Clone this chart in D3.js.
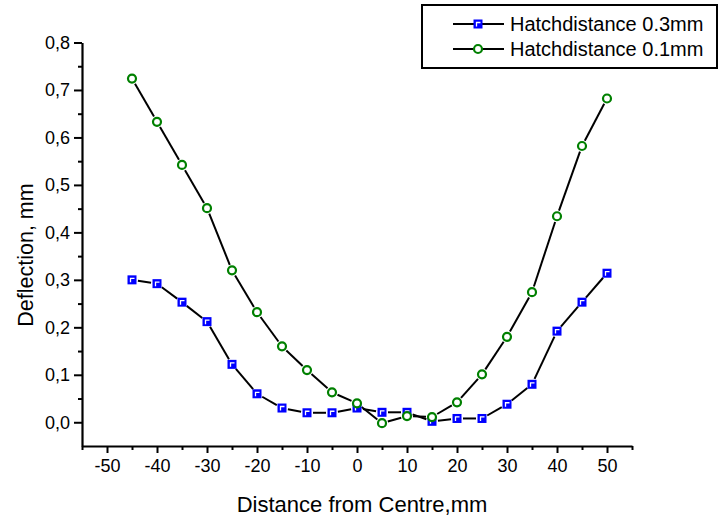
<!DOCTYPE html>
<html>
<head>
<meta charset="utf-8">
<script src="https://cdn.jsdelivr.net/npm/d3@7"></script>
<style>
  body { margin: 0; background: #fff; }
  svg text { font-family: "Liberation Sans", Arial, sans-serif; fill: #000; }
</style>
</head>
<body>
<svg id="chart" width="721" height="517"></svg>
<script>
// distance from centre, mm
const distance = [-45, -40, -35, -30, -25, -20, -15, -10, -5, 0, 5, 10, 15, 20, 25, 30, 35, 40, 45, 50];
// deflection, mm
const hatch03 = [0.300, 0.292, 0.253, 0.212, 0.122, 0.060, 0.030, 0.020, 0.020, 0.030,
                 0.021, 0.021, 0.002, 0.008, 0.008, 0.038, 0.080, 0.192, 0.253, 0.314];
const hatch01 = [0.724, 0.633, 0.542, 0.451, 0.320, 0.232, 0.160, 0.110, 0.063, 0.040,
                 -0.002, 0.013, 0.011, 0.042, 0.101, 0.180, 0.274, 0.434, 0.582, 0.682];
const seriesNames = ["Hatchdistance 0.3mm", "Hatchdistance 0.1mm"];
const xTicks = [-50, -40, -30, -20, -10, 0, 10, 20, 30, 40, 50];
const yTicks = [0.0, 0.1, 0.2, 0.3, 0.4, 0.5, 0.6, 0.7, 0.8];

const svg = d3.select("#chart");
const x = d3.scaleLinear().domain([-55, 55]).range([82, 632]);
const y = d3.scaleLinear().domain([-0.05, 0.8]).range([446, 42.5]);
const fmtY = d => d.toFixed(1).replace(".", ",");

// y axis
const yAxis = svg.append("g").attr("transform", `translate(${x(-55)},0)`);
yAxis.call(d3.axisLeft(y).tickValues(yTicks).tickFormat(fmtY).tickSize(8).tickSizeOuter(0));
yAxis.append("g").call(d3.axisLeft(y).tickValues(d3.range(0.05, 0.8, 0.1)).tickFormat("").tickSize(4).tickSizeOuter(0))
  .select(".domain").remove();
yAxis.selectAll("text").attr("font-size", 18).attr("x", -12);

// x axis
const xAxis = svg.append("g").attr("transform", `translate(0,${y(-0.05)})`);
xAxis.call(d3.axisBottom(x).tickValues(xTicks).tickFormat(d => String(d)).tickSize(7).tickSizeOuter(0));
xAxis.append("g").call(d3.axisBottom(x).tickValues([-55, -45, -35, -25, -15, -5, 5, 15, 25, 35, 45, 55]).tickFormat("").tickSize(4).tickSizeOuter(0))
  .select(".domain").remove();
xAxis.selectAll("text").attr("font-size", 18).attr("y", 13);

svg.selectAll(".domain").attr("stroke-width", 2.2);
svg.selectAll(".tick line").attr("stroke-width", 2);

// axis titles
svg.append("text").attr("x", 362).attr("y", 512).attr("text-anchor", "middle")
  .attr("font-size", 22).text("Distance from Centre,mm");
svg.append("text").attr("transform", "translate(33,255) rotate(-90)").attr("text-anchor", "middle")
  .attr("font-size", 21.5).text("Deflection, mm");

// lines with a gap around each marker
function drawSeries(vals, gap) {
  const pts = distance.map((d, i) => [x(d), y(vals[i])]);
  const g = svg.append("g");
  for (let i = 0; i < pts.length - 1; i++) {
    const [x1, y1] = pts[i], [x2, y2] = pts[i + 1];
    const len = Math.hypot(x2 - x1, y2 - y1);
    if (len <= 2 * gap) continue;
    const ux = (x2 - x1) / len, uy = (y2 - y1) / len;
    g.append("line")
      .attr("x1", x1 + ux * gap).attr("y1", y1 + uy * gap)
      .attr("x2", x2 - ux * gap).attr("y2", y2 - uy * gap)
      .attr("stroke", "#000").attr("stroke-width", 2);
  }
  return pts;
}

function squareMarker(g, cx, cy) {
  g.append("rect").attr("x", cx - 4.5).attr("y", cy - 4.5).attr("width", 9).attr("height", 9)
    .attr("fill", "#0000ff");
  g.append("path").attr("d", `M${cx - 1.5},${cy + 2.5}V${cy - 1.5}H${cx + 2.5}`)
    .attr("fill", "none").attr("stroke", "#fff").attr("stroke-width", 1.3);
}

function circleMarker(g, cx, cy) {
  g.append("circle").attr("cx", cx).attr("cy", cy).attr("r", 4)
    .attr("fill", "#fff").attr("stroke", "#008000").attr("stroke-width", 2.2);
}

const p1 = drawSeries(hatch03, 6);
const p2 = drawSeries(hatch01, 6);
const m1 = svg.append("g"), m2 = svg.append("g");
p1.forEach(([cx, cy]) => squareMarker(m1, cx, cy));
p2.forEach(([cx, cy]) => circleMarker(m2, cx, cy));

// legend
const lg = svg.append("g");
lg.append("rect").attr("x", 422).attr("y", 5).attr("width", 295).attr("height", 63)
  .attr("fill", "#fff").attr("stroke", "#000").attr("stroke-width", 2);
seriesNames.forEach((name, i) => {
  const cy = 24 + i * 25;
  lg.append("line").attr("x1", 453).attr("x2", 504).attr("y1", cy).attr("y2", cy)
    .attr("stroke", "#000").attr("stroke-width", 2);
  if (i === 0) squareMarker(lg, 478, cy); else circleMarker(lg, 478, cy);
  lg.append("text").attr("x", 510).attr("y", cy + 7).attr("font-size", 20).text(name);
});
</script>
</body>
</html>
